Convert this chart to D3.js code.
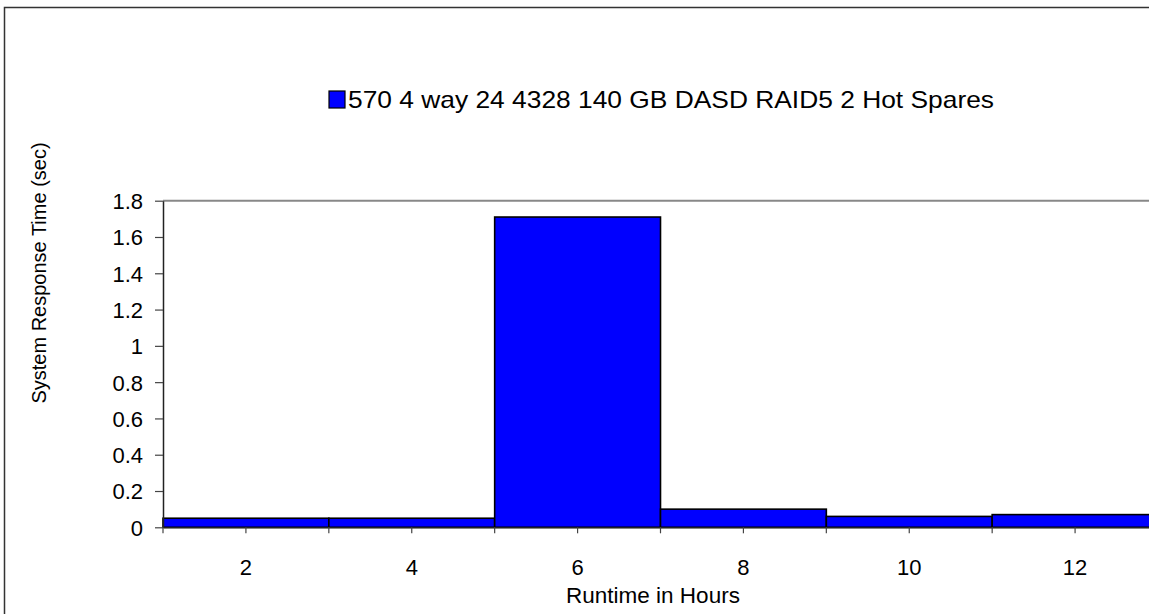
<!DOCTYPE html>
<html><head><meta charset="utf-8">
<script src="https://cdn.jsdelivr.net/npm/d3@7"></script>
<style>body{margin:0;background:#fff;overflow:hidden}svg{display:block}text{font-family:"Liberation Sans",Arial,sans-serif;fill:#000}</style>
</head><body>
<script>
const categories = ["2","4","6","8","10","12"];
const values = [0.05, 0.05, 1.71, 0.10, 0.06, 0.07];
const yTicks = [0,0.2,0.4,0.6,0.8,1,1.2,1.4,1.6,1.8];
const seriesName = "570 4 way 24 4328 140 GB DASD RAID5 2 Hot Spares";
const xTitle = "Runtime in Hours";
const yTitle = "System Response Time (sec)";

const W = 1149, H = 614;
const svg = d3.select("body").append("svg").attr("width", W).attr("height", H);

// outer chart border
svg.append("rect").attr("x",4.5).attr("y",7.5).attr("width",W+20).attr("height",H+20)
  .attr("fill","none").attr("stroke","#333").attr("stroke-width",1.5);

const pLeft = 163, pRight = 1158, pTop = 200.7, pBottom = 527.3;
const x = d3.scaleBand().domain(categories).range([pLeft, pRight]).padding(0);
const y = d3.scaleLinear().domain([0,1.8]).range([pBottom, pTop]);

// top gridline
svg.append("line").attr("x1",pLeft).attr("x2",W).attr("y1",y(1.8)).attr("y2",y(1.8))
  .attr("stroke","#888").attr("stroke-width",2);

// bars
svg.append("g").selectAll("rect").data(values).join("rect")
  .attr("x",(d,i)=>x(categories[i]))
  .attr("width",x.bandwidth())
  .attr("y",d=>y(d))
  .attr("height",d=>y(0)-y(d))
  .attr("fill","#0000FF").attr("stroke","#000").attr("stroke-width",1.6);

// y axis
const yAxis = d3.axisLeft(y).tickValues(yTicks).tickFormat(d=>String(d)).tickSizeInner(8).tickSizeOuter(0).tickPadding(12);
const gy = svg.append("g").attr("transform",`translate(${pLeft},0)`).call(yAxis);
gy.select(".domain").attr("stroke","#222").attr("stroke-width",1.5);
gy.selectAll(".tick line").attr("stroke","#444").attr("stroke-width",1.2);
gy.selectAll(".tick text").attr("font-size",22).attr("font-family","Liberation Sans, Arial, sans-serif").attr("fill","#000").attr("dy","0.36em");

// x axis
const xAxis = d3.axisBottom(x).tickSizeInner(6).tickSizeOuter(0).tickPadding(26);
const gx = svg.append("g").attr("transform",`translate(0,${pBottom})`).call(xAxis);
gx.select(".domain").attr("stroke","#222").attr("stroke-width",1.5);
gx.selectAll(".tick line").attr("stroke","#444").attr("stroke-width",1.2);
gx.selectAll(".tick text").attr("font-size",22).attr("font-family","Liberation Sans, Arial, sans-serif").attr("fill","#000");
// band boundary ticks
svg.append("g").selectAll("line").data(categories).join("line")
  .attr("x1",d=>x(d)).attr("x2",d=>x(d)).attr("y1",pBottom).attr("y2",pBottom+6)
  .attr("stroke","#444").attr("stroke-width",1.2);

// titles
svg.append("text").attr("x",653).attr("y",603).attr("text-anchor","middle").attr("font-size",22.5).text(xTitle);
svg.append("text").attr("transform","translate(46,273) rotate(-90)").attr("text-anchor","middle").attr("font-size",20).text(yTitle);

// legend
const lg = svg.append("g").attr("transform","translate(329,91)");
lg.append("rect").attr("x",0).attr("y",0).attr("width",16).attr("height",17).attr("fill","#0000FF").attr("stroke","#000").attr("stroke-width",1.2);
lg.append("text").attr("x",19).attr("y",17).attr("font-size",24).attr("textLength",646).attr("lengthAdjust","spacingAndGlyphs").text(seriesName);
</script>
</body></html>
